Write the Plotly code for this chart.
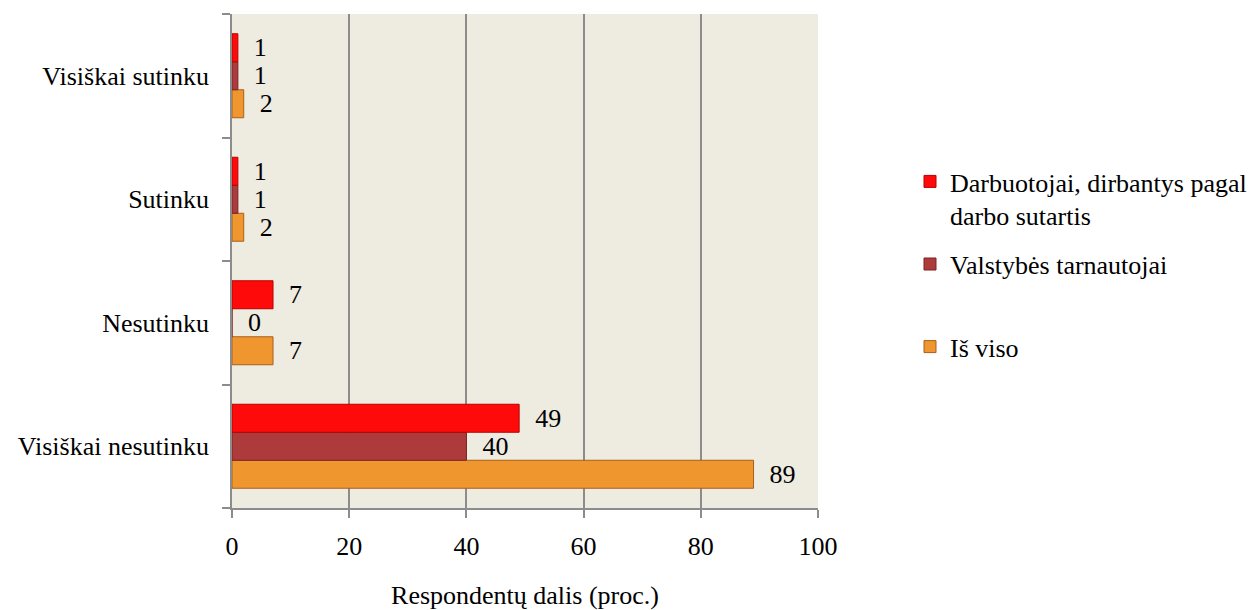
import plotly.graph_objects as go

# Survey answers (bottom to top on the category axis)
categories = ["Visiškai nesutinku", "Nesutinku", "Sutinku", "Visiškai sutinku"]

# Share of respondents, percent
darbuotojai = [49, 7, 1, 1]
valstybes_tarnautojai = [40, 0, 1, 1]
is_viso = [89, 7, 2, 2]

series_names = [
    "Darbuotojai, dirbantys pagal<br>darbo sutartis",
    "Valstybės tarnautojai<br> ",
    "Iš viso",
]

x_ticks = [0, 20, 40, 60, 80, 100]
x_title = "Respondentų dalis (proc.)"

FONT = "Liberation Serif"
W, H = 1254, 610
PLOT_L, PLOT_R, PLOT_T, PLOT_B = 232, 818, 14, 508

fig = go.Figure()

# Traces are added bottom-to-top within each group; legend rank puts them top-down
bar_specs = [
    (series_names[2], is_viso, "#F0962E", "#A8601C", 3),
    (series_names[1], valstybes_tarnautojai, "#AE3B3B", "#7A2222", 2),
    (series_names[0], darbuotojai, "#FF0A0A", "#B80000", 1),
]
for name, vals, color, edge, rank in bar_specs:
    fig.add_trace(go.Bar(
        y=categories,
        x=vals,
        name=name,
        orientation="h",
        legendgroup=f"g{rank}",
        legendrank=rank,
        marker=dict(color=color, line=dict(color=edge, width=1)),
        text=vals,
        texttemplate="  %{x}",
        textposition="outside",
        constraintext="none",
        cliponaxis=False,
        textfont=dict(family=FONT, size=26, color="black"),
    ))

fig.update_layout(
    width=W,
    height=H,
    margin=dict(l=PLOT_L, r=W - PLOT_R, t=PLOT_T, b=H - PLOT_B, autoexpand=False),
    paper_bgcolor="white",
    plot_bgcolor="#EEEBE0",
    barmode="group",
    bargap=0.32,
    bargroupgap=0,
    font=dict(family=FONT, size=26, color="black"),
    showlegend=True,
    legend=dict(
        traceorder="grouped",
        x=(910 - PLOT_L) / (PLOT_R - PLOT_L),
        xanchor="left",
        y=1 - (158 - PLOT_T) / (PLOT_B - PLOT_T),
        yanchor="top",
        valign="top",
        tracegroupgap=12,
        font=dict(family=FONT, size=26, color="black"),
        bgcolor="rgba(0,0,0,0)",
    ),
    xaxis=dict(
        range=[0, 100],
        tickvals=x_ticks,
        ticktext=[str(v) for v in x_ticks],
        showgrid=True,
        gridcolor="#8C8C8C",
        gridwidth=1.5,
        zeroline=False,
        showline=True,
        linecolor="#8C8C8C",
        linewidth=1.5,
        ticks="outside",
        ticklen=8,
        tickwidth=1.5,
        tickcolor="#8C8C8C",
        ticklabelstandoff=6,
        tickfont=dict(family=FONT, size=26, color="black"),
        title=dict(text=x_title, standoff=30,
                   font=dict(family=FONT, size=26, color="black")),
        automargin=False,
    ),
    yaxis=dict(
        showgrid=False,
        showline=True,
        linecolor="#8C8C8C",
        linewidth=1.5,
        ticks="outside",
        tickson="boundaries",
        ticklen=8,
        tickwidth=1.5,
        tickcolor="#8C8C8C",
        ticklabelstandoff=16,
        tickfont=dict(family=FONT, size=26, color="black"),
        automargin=False,
    ),
)

fig.write_html("out.html")
